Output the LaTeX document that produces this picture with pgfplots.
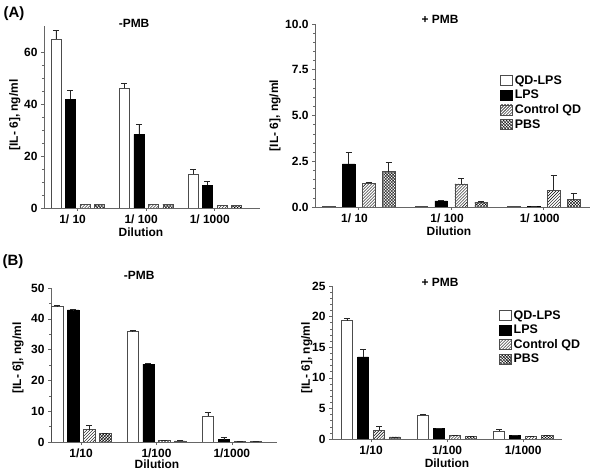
\documentclass[border=0pt]{standalone}
\usepackage{fontspec}
\setmainfont{Liberation Sans}
\usepackage{pgfplots}
\pgfplotsset{compat=1.18}
\usetikzlibrary{patterns}

\pgfplotsset{
 panel/.style={
  scale only axis, axis lines*=left,
  axis line style={-, black!60, line width=0.6pt},
  every tick/.style={black!60, line width=0.5pt}, tick align=outside,
  major tick length=3bp, minor tick length=2bp,
  ymin=0, xtick={0,1,2},
  /pgf/number format/assume math mode=true,
  ticklabel style={font=\bfseries\fontsize{12}{12}\selectfont},
  label style={font=\bfseries\fontsize{12}{12}\selectfont},
  title style={font=\bfseries\fontsize{12}{12}\selectfont, anchor=center},
  xlabel=Dilution, ylabel={[IL- 6], ng/ml},
  xlabel style={anchor=center}, ylabel style={anchor=center},
  legend style={draw=none, fill=none, font=\bfseries\fontsize{12.5}{13}\selectfont,
     anchor=north west, row sep=0.3bp, inner sep=0pt, cells={anchor=west}},
  legend cell align=left,
  error bars/y dir=plus, error bars/y explicit,
  error bars/error bar style={black!85, line width=0.6pt},
  error bars/error mark options={rotate=90, mark size=3bp, black!85, line width=0.6pt},
  legend image code/.code={\draw[#1] (0bp,-5bp) rectangle (12bp,5bp);},
 },
 qd/.style={ybar, bar shift=0, fill=white, draw=black!70, line width=0.5pt},
 lps/.style={ybar, bar shift=0, fill=black, draw=black, line width=0.5pt},
 cqd/.style={ybar, bar shift=0, fill=white, draw=black!70, line width=0.5pt, postaction={pattern=north east lines}},
 pbs/.style={ybar, bar shift=0, fill=white, draw=black!70, line width=0.5pt, postaction={pattern=crosshatch}},
}

\begin{document}
\begin{tikzpicture}
\useasboundingbox (0,0) rectangle (600bp,475bp);
\node[font=\bfseries\fontsize{15}{16}\selectfont] at (14bp,461bp) {(A)};
\node[font=\bfseries\fontsize{15}{16}\selectfont] at (13bp,213bp) {(B)};

% ---------- A left: -PMB ----------
\begin{axis}[panel, at={(44bp,267bp)}, anchor=south west, width=216bp, height=182bp,
  xmin=-0.49, xmax=2.66, ymax=70, ytick={0,20,40,60}, minor y tick num=3,
  xticklabels={1/ 10,1/ 100,1/ 1000}, xticklabel style={xshift=-5bp},
  title={-PMB}, title style={at={(axis description cs:0.417,0.984)}},
  ylabel style={at={(axis description cs:-0.135,0.511)}},
  xlabel style={at={(axis description cs:0.449,-0.132)}}]
\addplot[qd, bar width=0.146] coordinates {(-0.317,65) +- (0,3.2) (0.683,46) +- (0,2.1) (1.683,13) +- (0,1.7)};
\addplot[lps, bar width=0.146] coordinates {(-0.106,41.9) +- (0,3.4) (0.894,28.3) +- (0,3.9) (1.894,8.8) +- (0,1.4)};
\addplot[cqd, bar width=0.146, error bars/y dir=none] coordinates {(0.106,1.5) (1.106,1.5) (2.106,1.0)};
\addplot[pbs, bar width=0.146, error bars/y dir=none] coordinates {(0.317,1.5) (1.317,1.5) (2.317,1.0)};
\end{axis}

% ---------- A right: +PMB ----------
\begin{axis}[panel, at={(315bp,268bp)}, anchor=south west, width=275bp, height=183bp,
  xmin=-0.47, xmax=2.50, ymax=10, ytick={0,2.5,5,7.5,10}, yticklabels={0.0,2.5,5.0,7.5,10.0},
  minor y tick num=4,
  xticklabels={1/ 10,1/ 100,1/ 1000}, xticklabel style={xshift=-4bp},
  title={+ PMB}, title style={at={(axis description cs:0.455,0.995)}},
  ylabel style={at={(axis description cs:-0.145,0.5)}},
  xlabel style={at={(axis description cs:0.487,-0.13)}},
  legend style={at={(axis description cs:0.673,0.73)}}]
\addplot[qd, bar width=0.135, error bars/y dir=none] coordinates {(-0.324,0.03) (0.676,0.03) (1.676,0.03)};
\addplot[lps, bar width=0.135] coordinates {(-0.108,2.36) +- (0,0.64) (0.892,0.33) +- (0,0.03) (1.892,0.05) +- (0,0)};
\addplot[cqd, bar width=0.135] coordinates {(0.108,1.31) +- (0,0.04) (1.108,1.27) +- (0,0.31) (2.108,0.91) +- (0,0.84)};
\addplot[pbs, bar width=0.135] coordinates {(0.324,1.93) +- (0,0.51) (1.324,0.27) +- (0,0.03) (2.324,0.40) +- (0,0.33)};
\legend{QD-LPS,LPS,Control QD,PBS}
\end{axis}

% ---------- B left: -PMB ----------
\begin{axis}[panel, at={(51bp,33bp)}, anchor=south west, width=226bp, height=154bp,
  xmin=-0.40, xmax=2.60, ymax=50, ytick={0,10,20,30,40,50}, minor y tick num=1,
  xticklabels={1/10,1/100,1/1000},
  title={-PMB}, title style={at={(axis description cs:0.39,1.045)}},
  ylabel style={at={(axis description cs:-0.146,0.545)}},
  xlabel style={at={(axis description cs:0.469,-0.145)}}]
\addplot[qd, bar width=0.152] coordinates {(-0.318,44.0) +- (0,0.3) (0.682,36.0) +- (0,0.2) (1.682,8.4) +- (0,1.4)};
\addplot[lps, bar width=0.152] coordinates {(-0.106,42.9) +- (0,0.1) (0.894,25.3) +- (0,0.2) (1.894,0.8) +- (0,0.6)};
\addplot[cqd, bar width=0.152] coordinates {(0.106,4.0) +- (0,1.4) (1.106,0.5) +- (0,0) (2.106,0.1) +- (0,0)};
\addplot[pbs, bar width=0.152] coordinates {(0.318,2.7) +- (0,0.2) (1.318,0.4) +- (0,0) (2.318,0.1) +- (0,0)};
\end{axis}

% ---------- B right: +PMB ----------
\begin{axis}[panel, at={(332bp,36bp)}, anchor=south west, width=230bp, height=153bp,
  xmin=-0.513, xmax=2.51, ymax=25, ytick={0,5,10,15,20,25}, minor y tick num=4,
  xticklabels={1/10,1/100,1/1000},
  title={+ PMB}, title style={at={(axis description cs:0.47,0.987)}},
  ylabel style={at={(axis description cs:-0.11,0.53)}},
  xlabel style={at={(axis description cs:0.5,-0.16)}},
  legend style={at={(axis description cs:0.726,0.855)}}]
\addplot[qd, bar width=0.145] coordinates {(-0.316,19.35) +- (0,0.45) (0.684,3.9) +- (0,0.2) (1.684,1.3) +- (0,0.28)};
\addplot[lps, bar width=0.145] coordinates {(-0.105,13.4) +- (0,1.2) (0.895,1.74) +- (0,0) (1.895,0.54) +- (0,0)};
\addplot[cqd, bar width=0.145] coordinates {(0.105,1.47) +- (0,0.53) (1.105,0.54) +- (0,0.11) (2.105,0.49) +- (0,0)};
\addplot[pbs, bar width=0.145] coordinates {(0.316,0.33) +- (0,0) (1.316,0.38) +- (0,0) (2.316,0.54) +- (0,0)};
\legend{QD-LPS,LPS,Control QD,PBS}
\end{axis}
\end{tikzpicture}
\end{document}
